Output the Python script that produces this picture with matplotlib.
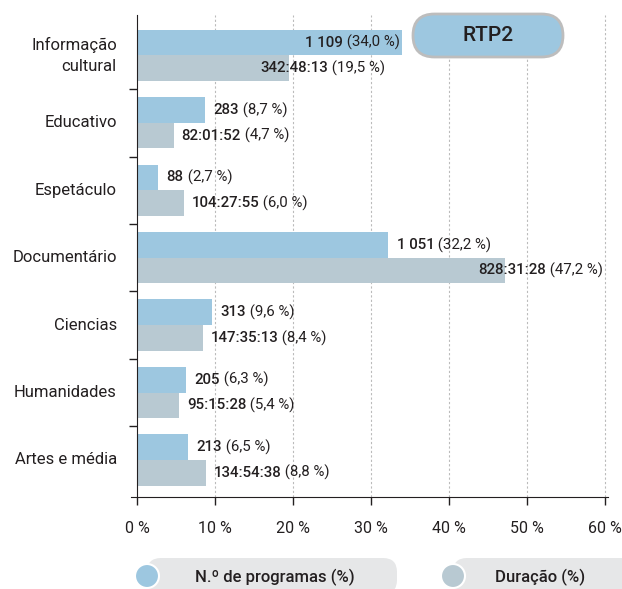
import matplotlib
matplotlib.use("Agg")
import matplotlib.pyplot as plt
from matplotlib.patches import FancyBboxPatch, Circle
import numpy as np

plt.rcParams['font.family'] = ['Roboto', 'DejaVu Sans']

categories = ["Informação\ncultural", "Educativo", "Espetáculo", "Documentário",
              "Ciencias", "Humanidades", "Artes e média"]
prog_pct = [34.0, 8.7, 2.7, 32.2, 9.6, 6.3, 6.5]
prog_num = ["1 109", "283", "88", "1 051", "313", "205", "213"]
dur_pct = [19.5, 4.7, 6.0, 47.2, 8.4, 5.4, 8.8]
dur_time = ["342:48:13", "82:01:52", "104:27:55", "828:31:28", "147:35:13", "95:15:28", "134:54:38"]
xticks = [0, 10, 20, 30, 40, 50, 60]
xtick_labels = ["0 %", "10 %", "20 %", "30 %", "40 %", "50 %", "60 %"]
legend_labels = ["N.º de programas (%)", "Duração (%)"]
badge_text = "RTP2"

blue = "#9dc7e0"
grey = "#b8c9d2"
txt = "#231f20"

W, H = 622, 589
fig = plt.figure(figsize=(W / 100, H / 100), dpi=100)
ax = fig.add_axes([130.8 / W, (H - 497) / H, (608 - 130.8) / W, (497 - 15) / H])

y = np.arange(len(categories))
bh = 0.38
ax.barh(y - bh / 2, prog_pct, height=bh, color=blue, zorder=2)
ax.barh(y + bh / 2, dur_pct, height=bh, color=grey, zorder=2)

ax.set_xlim(-0.8, 60.4)
ax.set_ylim(6.55, -0.6)
ax.spines['left'].set_position(('data', 0))
for s in ['top', 'right']:
    ax.spines[s].set_visible(False)
ax.spines['left'].set_color(txt)
ax.spines['bottom'].set_color(txt)

ax.set_xticks(xticks)
ax.set_xticklabels(xtick_labels, fontsize=11.5, color=txt)
ax.tick_params(axis='x', length=6, width=1, direction='out', pad=11, colors=txt)
ax.set_yticks(np.arange(len(categories) - 1) + 0.5)
ax.set_yticklabels([])
ax.tick_params(axis='y', length=6, width=1, direction='out', colors=txt)
for xt in xticks[1:]:
    ax.axvline(xt, color="#bbbbbb", lw=0.8, ls=(0, (2, 2)), zorder=1)

for i, c in enumerate(categories):
    ax.text(-2.6, i, c, ha='right', va='center', fontsize=12, color=txt,
            linespacing=1.45)

fig.canvas.draw()
renderer = fig.canvas.get_renderer()


def two_part(xv, yv, bold, rest, align='left'):
    t1 = ax.text(xv, yv, bold, ha='left', va='center', fontsize=10.8,
                 fontweight='medium', color=txt, zorder=5)
    bb = t1.get_window_extent(renderer=renderer)
    t2 = ax.annotate(" " + rest, xy=(1, 0.5), xycoords=t1, ha='left', va='center',
                     fontsize=10.8, color=txt, zorder=5)
    if align == 'right':
        bb2 = t2.get_window_extent(renderer=renderer)
        total = bb.width + bb2.width
        inv = ax.transData.inverted()
        x0 = ax.transData.transform((xv, yv))[0] - total
        t1.set_x(inv.transform((x0, 0))[0])


def fmt(v):
    return "(" + f"{v:.1f}".replace(".", ",") + " %)"


for i in range(len(categories)):
    if i == 0:
        two_part(prog_pct[i] - 0.3, i - bh / 2, prog_num[i], fmt(prog_pct[i]), align='right')
        two_part(dur_pct[i] - 3.7, i + bh / 2, dur_time[i], fmt(dur_pct[i]))
    else:
        two_part(prog_pct[i] + 1.1, i - bh / 2, prog_num[i], fmt(prog_pct[i]))
        if dur_pct[i] > 40:
            two_part(dur_pct[i] - 3.5, i + bh / 2, dur_time[i], fmt(dur_pct[i]))
        else:
            two_part(dur_pct[i] + 1.0, i + bh / 2, dur_time[i], fmt(dur_pct[i]))

# badge
bx0, by0, bx1, by1 = 413, 14, 563, 57
r = (by1 - by0) / 2
badge = FancyBboxPatch((bx0, H - by1), bx1 - bx0, by1 - by0,
                       boxstyle=f"round,pad=0,rounding_size={r}",
                       transform=None, facecolor=blue, edgecolor="#bdbdbd",
                       lw=2, zorder=10)
fig.patches.append(badge)
fig.text((bx0 + bx1) / 2 / W, 1 - 35.5 / H, badge_text, ha='center', va='center',
         fontsize=15, fontweight='medium', color=txt, zorder=11)

# legend pills
pills = [(147, 397, 275, blue), (453, 640, 540, grey)]
for (x0, x1, xc, col), lab in zip(pills, legend_labels):
    py0, py1 = 558, 594
    pr = 14
    p = FancyBboxPatch((x0, H - py1), x1 - x0, py1 - py0,
                       boxstyle=f"round,pad=0,rounding_size={pr}",
                       transform=None, facecolor="#e6e7e8", edgecolor='none', zorder=1)
    fig.patches.append(p)
    c = Circle((x0, H - 576), 12, transform=None, facecolor=col,
               edgecolor='white', lw=1.5, zorder=2)
    fig.patches.append(c)
    fig.text(xc / W, 1 - 577 / H, lab, ha='center', va='center', fontsize=12,
             fontweight='medium', color=txt, zorder=3)

fig.savefig("out.png", dpi=100)
